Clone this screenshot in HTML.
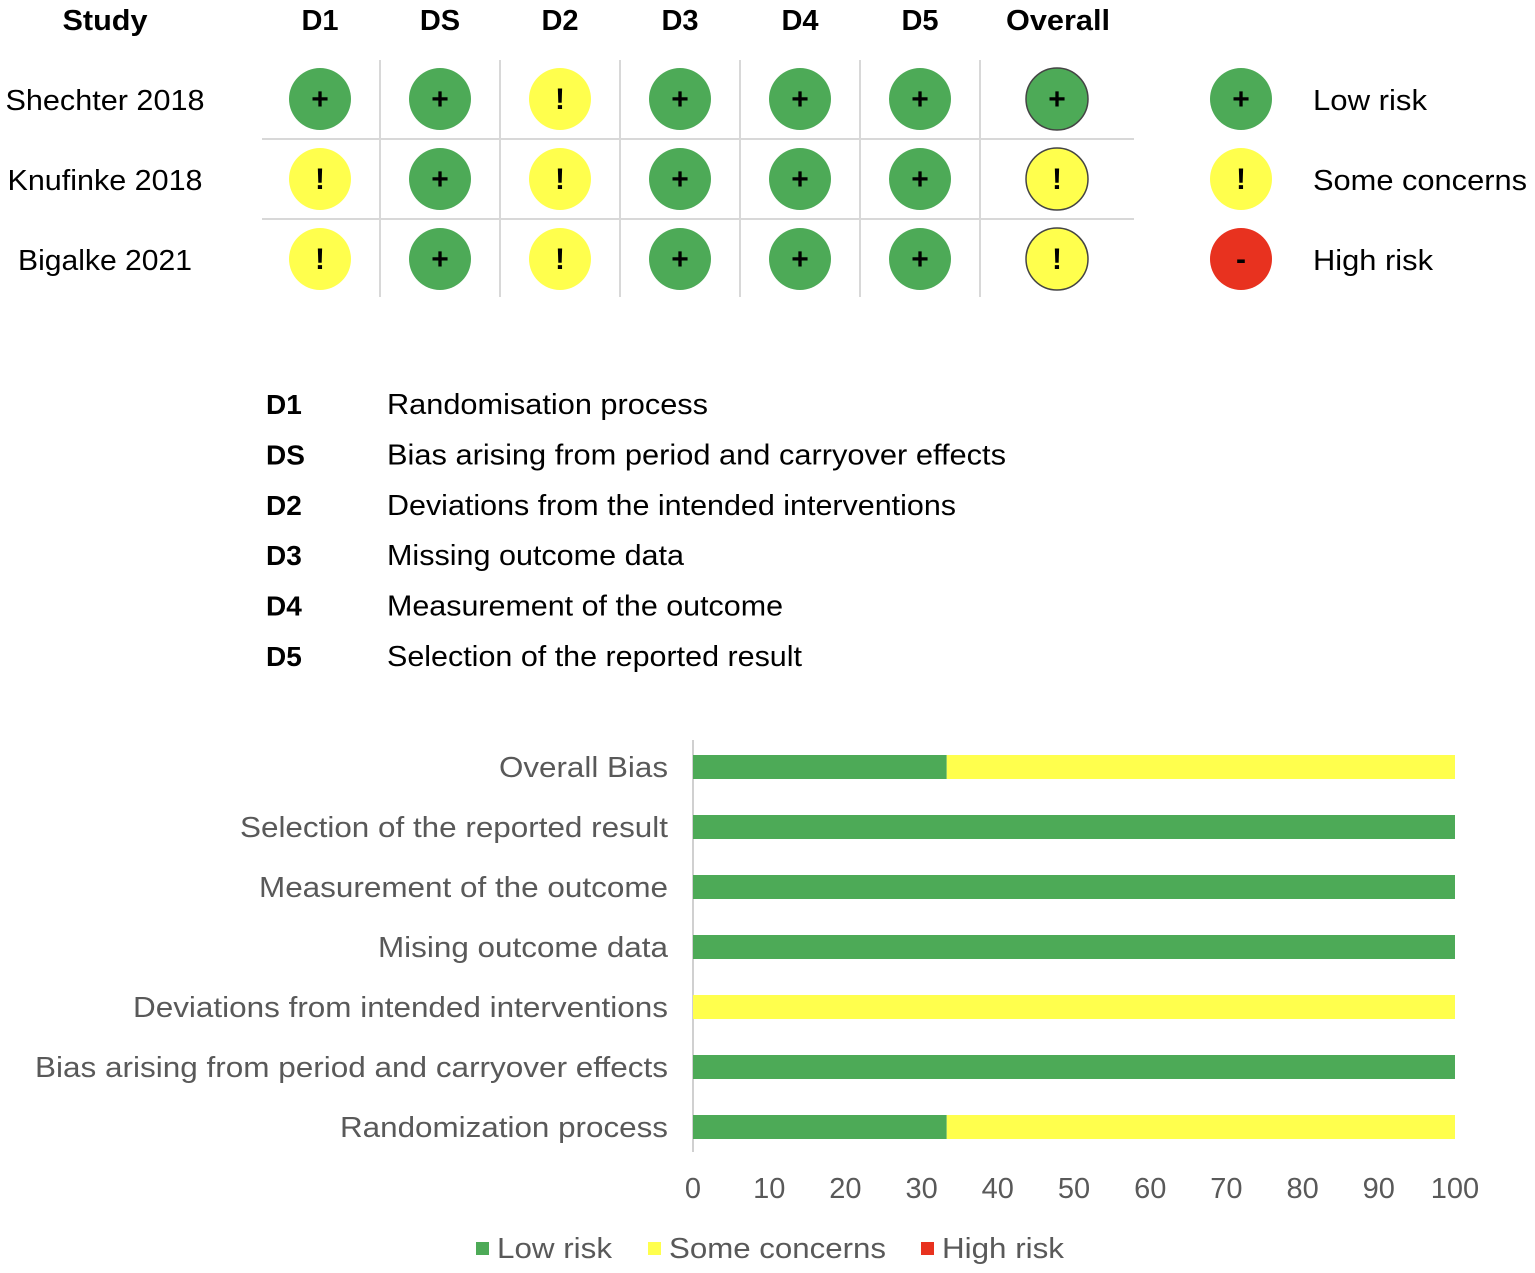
<!DOCTYPE html>
<html><head><meta charset="utf-8">
<style>
body{margin:0;background:#fff;font-family:"Liberation Sans",Arial,sans-serif;}
svg{display:block}
</style></head>
<body>
<svg id="s" width="1535" height="1273" viewBox="0 0 1535 1273" xmlns="http://www.w3.org/2000/svg">
</svg>
<script>
const studies = ["Shechter 2018","Knufinke 2018","Bigalke 2021"];
const domains = ["D1","DS","D2","D3","D4","D5","Overall"];
const judgements = [
  ["L","L","S","L","L","L","L"],
  ["S","L","S","L","L","L","S"],
  ["S","L","S","L","L","L","S"]
];
const domainCodes = ["D1","DS","D2","D3","D4","D5"];
const domainDescs = ["Randomisation process","Bias arising from period and carryover effects","Deviations from the intended interventions","Missing outcome data","Measurement of the outcome","Selection of the reported result"];
const barCategories = ["Overall Bias","Selection of the reported result","Measurement of the outcome","Mising outcome data","Deviations from intended interventions","Bias arising from period and carryover effects","Randomization process"];
const lowRisk = [33.3,100,100,100,0,100,33.3];
const someConcerns = [66.7,0,0,0,100,0,66.7];
const highRisk = [0,0,0,0,0,0,0];
const xTicks = [0,10,20,30,40,50,60,70,80,90,100];

// text widths measured from reference (layout)
const studyW=[199,195,174];
const descW=[321,619,569,297,396,415];
const catW=[169,428,409,290,535,633,328];
const legW=[114,214,120];

const NS="http://www.w3.org/2000/svg";
const svg=document.getElementById('s');
const G="#4daa57",Y="#ffff4d",R="#e8321f";
function mk(tag,attrs,parent){const e=document.createElementNS(NS,tag);for(const k in attrs)e.setAttribute(k,attrs[k]);(parent||svg).appendChild(e);return e;}
function txt(x,y,s,attrs,w){const a=Object.assign({x:x,y:y,'font-family':'Liberation Sans, Arial, sans-serif'},attrs);if(w){a.textLength=w;a.lengthAdjust='spacingAndGlyphs';}const e=mk('text',a);e.textContent=s;return e;}

const colX=i=>i<6?320+120*i:1057;
const rowY=j=>99+80*j;
let t=txt(105,30,"Study",{'font-size':29,'font-weight':'bold','text-anchor':'middle'},85);


domains.forEach((d,i)=>{
  const e=txt(colX(i)+(i==6?1:0),30,d,{'font-size':29,'font-weight':'bold','text-anchor':'middle'},i==6?104:null);
  
  
});
for(let i=0;i<6;i++){
  const l=mk('line',{x1:380+120*i,x2:380+120*i,y1:60,y2:297,stroke:'#d8d8d8','stroke-width':2});
  
  
}
[139,219].forEach(y=>{
  const l=mk('line',{x1:262,x2:1134,y1:y,y2:y,stroke:'#d8d8d8','stroke-width':2});
  
  
});
function light(cx,cy,v,border,name){
  const c=mk('circle',{cx:cx,cy:cy,r:31,fill:v=="L"?G:v=="S"?Y:R,stroke:border?'#444':'none','stroke-width':border?1.5:0});
  
  
  const s=v=="L"?"+":v=="S"?"!":"-";
  const e=txt(cx,cy+10,s,{'font-size':30,'font-weight':'bold','text-anchor':'middle'});
  
  
}
studies.forEach((s,j)=>{
  const e=txt(105,rowY(j)+11,s,{'font-size':29,'text-anchor':'middle'},studyW[j]);
  
  
  judgements[j].forEach((v,i)=>light(colX(i),rowY(j),v,i==6,'judgement-'+j+'-'+i));
});
[["L","Low risk"],["S","Some concerns"],["H","High risk"]].forEach((p,j)=>{
  light(1241,rowY(j),p[0],false,'legend-light-'+j);
  const e=txt(1313,rowY(j)+11,p[1],{'font-size':29},legW[j]);
  
  
});

domainCodes.forEach((c,i)=>{
  const y=414+50.4*i;
  let e=txt(266,y,c,{'font-size':28,'font-weight':'bold'});
  
  
  e=txt(387,y,domainDescs[i],{'font-size':29},descW[i]);
  
  
});

const x0=693,x1=1455;
const xs=v=>x0+(x1-x0)*v/100;
const ys=i=>767+60*i;
const ax=mk('line',{x1:x0,x2:x0,y1:740,y2:1152,stroke:'#d0d0d0','stroke-width':2});


barCategories.forEach((c,i)=>{
  const e=txt(668,ys(i)+10,c,{'font-size':29,'text-anchor':'end',fill:'#595959'},catW[i]);
  
  
  let acc=0;
  [[lowRisk,G,'low'],[someConcerns,Y,'some'],[highRisk,R,'high']].forEach(s=>{
    const v=s[0][i];
    if(v>0){
      const r=mk('rect',{x:xs(acc),y:ys(i)-12,width:xs(acc+v)-xs(acc),height:24,fill:s[1]});
      
      
    }
    acc+=v;
  });
});
xTicks.forEach(v=>{
  const e=txt(xs(v),1198,String(v),{'font-size':29,'text-anchor':'middle',fill:'#595959'});
  
  
});
[[476,G,"Low risk",115],[648,Y,"Some concerns",217],[921,R,"High risk",122]].forEach(p=>{
  const r=mk('rect',{x:p[0],y:1242,width:13,height:13,fill:p[1]});
  
  
  const e=txt(p[0]+21,1258,p[2],{'font-size':29,fill:'#595959'},p[3]);
  
  
});
</script>
</body></html>
